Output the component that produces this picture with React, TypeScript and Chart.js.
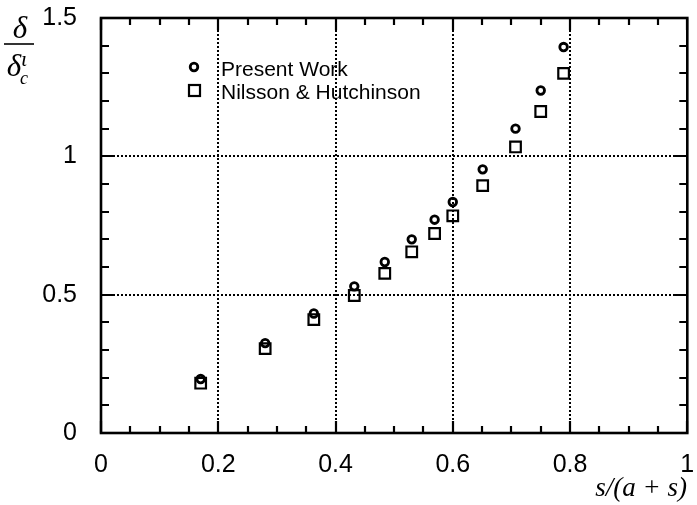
import React, { useEffect, useRef } from 'react';
import { Chart, registerables } from 'chart.js';

Chart.register(...registerables);

// ---- data ----
const X_VALUES = [0.17, 0.28, 0.363, 0.432, 0.484, 0.53, 0.569, 0.6, 0.651, 0.707, 0.75, 0.789];
const PRESENT_WORK = [0.195, 0.325, 0.432, 0.53, 0.618, 0.7, 0.771, 0.835, 0.953, 1.1, 1.238, 1.395];
const NILSSON_HUTCHINSON = [0.18, 0.305, 0.41, 0.497, 0.577, 0.655, 0.721, 0.785, 0.894, 1.034, 1.162, 1.3];
const SERIES_NAMES = ['Present Work', 'Nilsson & Hutchinson'];

const X_TICKS = [0, 0.2, 0.4, 0.6, 0.8, 1];
const Y_TICKS = [0, 0.5, 1, 1.5];
const X_GRID = [0.2, 0.4, 0.6, 0.8];
const Y_GRID = [0.5, 1];
const X_MINOR_STEP = 0.05;
const Y_MINOR_STEP = 0.1;
const X_TITLE = 's/(a + s)';

const SANS = '"Liberation Sans", Arial, Helvetica, sans-serif';
const SERIF = '"Liberation Serif", "Times New Roman", serif';

const framePlugin = {
  id: 'framePlugin',
  beforeDatasetsDraw(chart: any) {
    const { ctx, chartArea, scales } = chart;
    const { left, right, top, bottom } = chartArea;
    const x = scales.x;
    const y = scales.y;
    ctx.save();
    ctx.strokeStyle = '#000';
    // dotted grid
    ctx.lineWidth = 2;
    ctx.setLineDash([2, 2]);
    X_GRID.forEach((v) => {
      const px = Math.round(x.getPixelForValue(v));
      ctx.beginPath();
      ctx.moveTo(px, top);
      ctx.lineTo(px, bottom);
      ctx.stroke();
    });
    Y_GRID.forEach((v) => {
      const py = Math.round(y.getPixelForValue(v));
      ctx.beginPath();
      ctx.moveTo(left, py);
      ctx.lineTo(right, py);
      ctx.stroke();
    });
    ctx.setLineDash([]);
    // inward tick marks
    ctx.lineWidth = 2.2;
    const nx = Math.round((x.max - x.min) / X_MINOR_STEP);
    for (let i = 0; i <= nx; i++) {
      const v = x.min + i * X_MINOR_STEP;
      const px = Math.round(x.getPixelForValue(v));
      const major = X_TICKS.some((t) => Math.abs(t - v) < 1e-6);
      const len = major ? 12 : 7;
      ctx.beginPath();
      ctx.moveTo(px, bottom);
      ctx.lineTo(px, bottom - len);
      ctx.moveTo(px, top);
      ctx.lineTo(px, top + len);
      ctx.stroke();
    }
    const ny = Math.round((y.max - y.min) / Y_MINOR_STEP);
    for (let i = 0; i <= ny; i++) {
      const v = y.min + i * Y_MINOR_STEP;
      const py = Math.round(y.getPixelForValue(v));
      const major = Y_TICKS.some((t) => Math.abs(t - v) < 1e-6);
      const len = major ? 14 : 8;
      ctx.beginPath();
      ctx.moveTo(left, py);
      ctx.lineTo(left + len, py);
      ctx.moveTo(right, py);
      ctx.lineTo(right - len, py);
      ctx.stroke();
    }
    // frame
    ctx.lineWidth = 2.6;
    ctx.strokeRect(left, top, right - left, bottom - top);
    ctx.restore();
  },
  afterDraw(chart: any) {
    const { ctx } = chart;
    ctx.save();
    ctx.fillStyle = '#000';
    ctx.strokeStyle = '#000';
    // legend
    ctx.lineWidth = 2.8;
    ctx.beginPath();
    ctx.arc(194, 67, 3.8, 0, Math.PI * 2);
    ctx.stroke();
    ctx.lineWidth = 2.2;
    ctx.strokeRect(189, 85, 11, 11);
    ctx.font = `21px ${SANS}`;
    ctx.textAlign = 'left';
    ctx.textBaseline = 'alphabetic';
    ctx.fillText(SERIES_NAMES[0], 221, 76);
    ctx.fillText(SERIES_NAMES[1], 221, 99);
    // x-axis title
    ctx.font = `italic 27px ${SERIF}`;
    ctx.textAlign = 'right';
    ctx.fillText(X_TITLE, 687, 496);
    // y-axis title: delta over delta'_c
    ctx.textAlign = 'center';
    ctx.font = `italic 31px ${SERIF}`;
    ctx.fillText('δ', 20, 38);
    ctx.lineWidth = 1.6;
    ctx.beginPath();
    ctx.moveTo(4, 44);
    ctx.lineTo(34, 44);
    ctx.stroke();
    ctx.fillText('δ', 14, 76);
    ctx.font = `italic 22px ${SERIF}`;
    ctx.textAlign = 'left';
    ctx.fillText('ι', 21, 66);
    ctx.font = `italic 18px ${SERIF}`;
    ctx.fillText('c', 20, 84);
    ctx.restore();
  },
};

export default function App() {
  const ref = useRef<HTMLCanvasElement | null>(null);
  useEffect(() => {
    if (!ref.current) return;
    const chart = new Chart(ref.current, {
      type: 'scatter',
      data: {
        datasets: [
          {
            label: SERIES_NAMES[0],
            data: X_VALUES.map((xv, i) => ({ x: xv, y: PRESENT_WORK[i] })),
            pointStyle: 'circle',
            pointRadius: 3.8,
            borderWidth: 2.8,
            borderColor: '#000',
            backgroundColor: 'rgba(0,0,0,0)',
          },
          {
            label: SERIES_NAMES[1],
            data: X_VALUES.map((xv, i) => ({ x: xv, y: NILSSON_HUTCHINSON[i] })),
            pointStyle: 'rect',
            pointRadius: 7.5,
            borderWidth: 2.2,
            borderColor: '#000',
            backgroundColor: 'rgba(0,0,0,0)',
          },
        ],
      },
      options: {
        responsive: false,
        animation: false,
        devicePixelRatio: 1,
        layout: { padding: { top: 18, right: 2, left: 0, bottom: 0 } },
        plugins: { legend: { display: false }, tooltip: { enabled: false } },
        scales: {
          x: {
            type: 'linear',
            min: 0,
            max: 1,
            afterBuildTicks: (s: any) => {
              s.ticks = X_TICKS.map((v) => ({ value: v }));
            },
            ticks: {
              color: '#000',
              font: { family: SANS, size: 25 },
              padding: 17,
              maxRotation: 0,
              autoSkip: false,
              callback: (v: any) => String(Math.round(Number(v) * 10) / 10),
            },
            grid: { display: false, drawTicks: false },
            border: { display: false },
            afterFit: (s: any) => {
              s.height = 72;
              s.paddingLeft = 0;
              s.paddingRight = 0;
            },
          },
          y: {
            type: 'linear',
            min: 0,
            max: 1.5,
            afterBuildTicks: (s: any) => {
              s.ticks = Y_TICKS.map((v) => ({ value: v }));
            },
            ticks: {
              color: '#000',
              font: { family: SANS, size: 25 },
              padding: 24,
              autoSkip: false,
              callback: (v: any) => String(Math.round(Number(v) * 10) / 10),
            },
            grid: { display: false, drawTicks: false },
            border: { display: false },
            afterFit: (s: any) => {
              s.width = 101;
              s.paddingTop = 0;
              s.paddingBottom = 0;
            },
          },
        },
      },
      plugins: [framePlugin],
    } as any);
    return () => chart.destroy();
  }, []);
  return (
    <div style={{ position: 'fixed', left: 0, top: 0, width: 697, height: 505, background: '#fff' }}>
      <canvas ref={ref} width={697} height={505} style={{ display: 'block' }} />
    </div>
  );
}
